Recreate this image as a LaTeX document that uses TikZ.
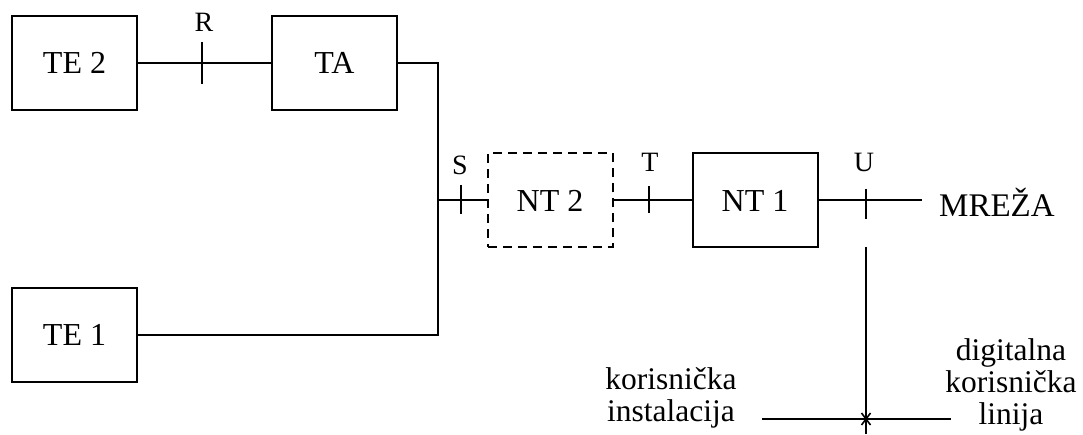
\documentclass[tikz,border=0pt]{standalone}
\usepackage{fontspec}
\setmainfont{Liberation Serif}
\usetikzlibrary{calc}
\begin{document}
\begin{tikzpicture}[x=1pt,y=-1pt,
  box/.style={draw,line width=2pt,minimum width=125pt,minimum height=94pt,inner sep=0pt,font=\fontsize{32}{34}\selectfont},
  dbox/.style={box,dash pattern=on 9pt off 6pt},
  wire/.style={line width=2pt},
  tick/.style={line width=2pt},
  ifc/.style={inner sep=0pt,anchor=base,font=\fontsize{28}{30}\selectfont},
  lbl/.style={inner sep=0pt,align=center,font=\fontsize{31.5}{32}\selectfont}]
\useasboundingbox (0,0) rectangle (1083,435);
\node[box] (te2) at (74.5,63) {TE 2};
\node[box] (ta) at (334.5,63) {TA};
\node[box] (te1) at (74.5,335) {TE 1};
\node[dbox] (nt2) at (550,200.5) {NT 2};
\node[box] (nt1) at (755,200.5) {NT 1};
\node[inner sep=0pt,anchor=west,font=\fontsize{33}{35}\selectfont] (mreza) at (939,202) {MREŽA};
\coordinate (c1) at (438,63);
\coordinate (j) at (438,200.5);
\coordinate (c2) at (438,335);
\coordinate (mend) at (922,200.5);
\coordinate (vtop) at (866,247);
\coordinate (vbot) at (866,434);
\coordinate (hl) at (762,419);
\coordinate (hr) at (951,419);
\coordinate (x) at (866,419);
% connectors
\draw[wire] (te2.east) -- (ta.west);
\draw[wire] (ta.east) -- (c1) -- (c2) -- (te1.east);
\draw[wire] (j) -- (nt2.west);
\draw[wire] (nt2.east) -- (nt1.west);
\draw[wire] (nt1.east) -- (mend);
\draw[wire] (vtop) -- (vbot);
\draw[wire] (hl) -- (hr);
\draw[line width=1.6pt] ($(x)+(-4.5,-6)$) -- ($(x)+(4.5,6)$);
\draw[line width=1.6pt] ($(x)+(4.5,-6)$) -- ($(x)+(-4.5,6)$);
% ticks
\draw[tick] (202,42) -- (202,84);
\draw[tick] (461,185) -- (461,214);
\draw[tick] (649,186) -- (649,213);
\draw[tick] (866,189) -- (866,219);
\node[ifc] (r) at (204,32) {R};
\node[ifc] (s) at (460,175) {S};
\node[ifc] (t) at (650,172) {T};
\node[ifc] (u) at (864,172) {U};
\node[lbl] (ki) at (671,398) {korisnička\\instalacija};
\node[lbl] (dkl) at (1011,385) {digitalna\\korisnička\\linija};
\end{tikzpicture}
\end{document}
